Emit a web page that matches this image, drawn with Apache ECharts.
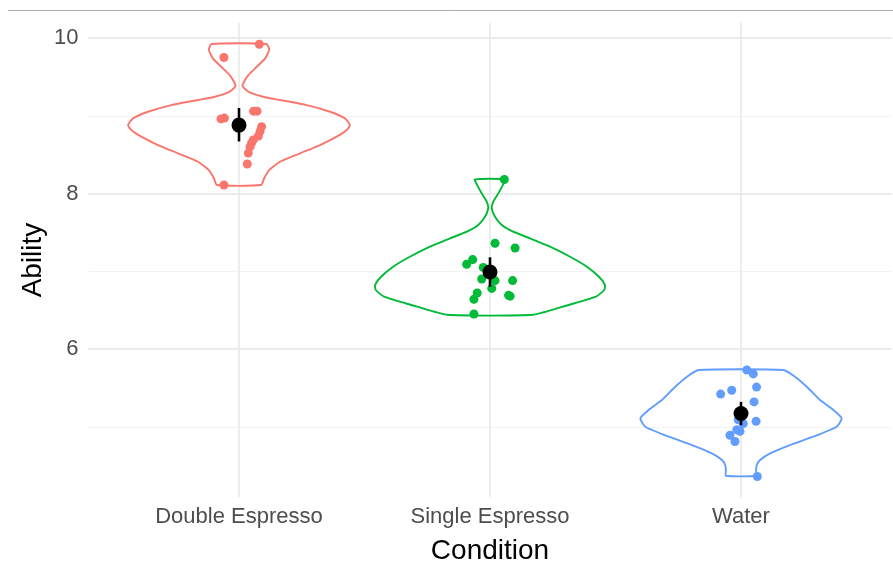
<!DOCTYPE html>
<html>
<head>
<meta charset="utf-8">
<script src="https://cdn.jsdelivr.net/npm/echarts@6/dist/echarts.min.js"></script>
<style>
  html, body { margin: 0; padding: 0; background: #ffffff; }
  #chart { width: 893px; height: 562px; }
</style>
</head>
<body>
<div id="chart"></div>
<script>
// ---- data ----
const categories = ['Double Espresso', 'Single Espresso', 'Water'];
const groupColors = ['#F8766D', '#00BA38', '#619CFF'];
const yMajorTicks = [6, 8, 10];
const yMinorTicks = [5, 7, 9];

// individual observations: [horizontal jitter (category units), Ability]
const doubleEspresso = [
  [0.081, 9.92], [-0.060, 9.75], [-0.072, 8.96], [-0.058, 8.97], [0.058, 9.06],
  [0.072, 9.06], [0.090, 8.86], [0.084, 8.80], [0.077, 8.74], [0.057, 8.69],
  [0.050, 8.65], [0.044, 8.60], [0.037, 8.52], [0.033, 8.38], [-0.060, 8.11]
];
const singleEspresso = [
  [0.057, 8.18], [0.020, 7.36], [0.100, 7.30], [-0.069, 7.15], [-0.093, 7.09],
  [-0.027, 7.05], [-0.033, 6.90], [0.020, 6.88], [0.090, 6.88], [0.007, 6.78],
  [0.080, 6.68], [0.074, 6.69], [-0.051, 6.72], [-0.064, 6.64], [-0.064, 6.45]
];
const water = [
  [0.023, 5.73], [0.049, 5.68], [0.062, 5.51], [-0.037, 5.47], [-0.081, 5.42],
  [0.052, 5.32], [0.060, 5.07], [0.009, 5.04], [-0.011, 5.09], [-0.017, 4.96],
  [-0.004, 4.94], [-0.044, 4.89], [-0.024, 4.81], [0.065, 4.36], [-0.005, 5.15]
];

// violin outlines: Ability levels (top to bottom) and density half-widths (category units)
const doubleViolinY = [9.923, 9.846, 9.739, 9.631, 9.524, 9.438, 9.383, 9.310, 9.245, 9.203, 9.138,
  9.052, 8.967, 8.881, 8.817, 8.731, 8.624, 8.517, 8.409, 8.302, 8.196, 8.109];
const doubleViolinW = [0.110, 0.120, 0.104, 0.071, 0.037, 0.020, 0.014, 0.037, 0.096, 0.163, 0.270,
  0.363, 0.422, 0.442, 0.429, 0.389, 0.323, 0.243, 0.163, 0.120, 0.100, 0.088];
const singleViolinY = [8.182, 8.109, 8.002, 7.895, 7.809, 7.702, 7.595, 7.509, 7.424, 7.316, 7.187,
  7.059, 6.930, 6.823, 6.759, 6.673, 6.545, 6.440];
const singleViolinW = [0.060, 0.051, 0.033, 0.013, 0.007, 0.020, 0.047, 0.092, 0.159, 0.239, 0.319,
  0.386, 0.434, 0.458, 0.455, 0.422, 0.291, 0.171];
const waterViolinY = [5.730, 5.644, 5.515, 5.344, 5.216, 5.108, 5.001, 4.872, 4.765, 4.658, 4.572,
  4.508, 4.440, 4.370];
const waterViolinW = [0.169, 0.215, 0.262, 0.315, 0.368, 0.401, 0.381, 0.288, 0.195, 0.116, 0.076,
  0.063, 0.060, 0.060];

// group means with interval bounds
const groupMeans = [8.88, 6.99, 5.17];
const intervalLow = [8.67, 6.80, 5.02];
const intervalHigh = [9.10, 7.18, 5.32];

// ---- chart ----
const observations = [doubleEspresso, singleEspresso, water];
const violins = [
  { y: doubleViolinY, w: doubleViolinW },
  { y: singleViolinY, w: singleViolinW },
  { y: waterViolinY, w: waterViolinW }
];
const FONT = '"Liberation Sans", Arial, sans-serif';

const chart = echarts.init(document.getElementById('chart'), null, { renderer: 'canvas' });

const gridLineData = [
  ...yMinorTicks.map(v => ({ yAxis: v, lineStyle: { color: '#F2F2F2', width: 1.2, type: 'solid' } })),
  ...yMajorTicks.map(v => ({ yAxis: v, lineStyle: { color: '#EBEBEB', width: 1.8, type: 'solid' } })),
  ...categories.map((c, i) => ({ xAxis: i + 1, lineStyle: { color: '#EBEBEB', width: 1.8, type: 'solid' } }))
];

const series = [];

// panel grid lines (kept underneath every mark)
series.push({
  type: 'scatter',
  data: [],
  z: 1,
  silent: true,
  markLine: {
    z: 1,
    silent: true,
    symbol: 'none',
    animation: false,
    label: { show: false },
    emphasis: { disabled: true },
    data: gridLineData
  }
});

// violin outlines
series.push({
  type: 'custom',
  z: 10,
  silent: true,
  data: categories.map((c, i) => [i + 1]),
  renderItem: function (params, api) {
    const g = params.dataIndex;
    const v = violins[g];
    const cx = g + 1;
    const pts = [];
    for (let k = 0; k < v.y.length; k++) pts.push(api.coord([cx + v.w[k], v.y[k]]));
    for (let k = v.y.length - 1; k >= 0; k--) pts.push(api.coord([cx - v.w[k], v.y[k]]));
    return {
      type: 'polygon',
      shape: { points: pts, smooth: 0.18 },
      style: { fill: 'none', stroke: groupColors[g], lineWidth: 1.9 }
    };
  }
});

// jittered observations
observations.forEach((obs, g) => {
  series.push({
    type: 'scatter',
    z: 11,
    symbol: 'circle',
    symbolSize: 9,
    itemStyle: { color: groupColors[g], opacity: 1 },
    emphasis: { disabled: true },
    data: obs.map(p => [g + 1 + p[0], p[1]])
  });
});

// interval bars
series.push({
  type: 'custom',
  z: 12,
  silent: true,
  data: groupMeans.map((m, i) => [i + 1, intervalLow[i], intervalHigh[i]]),
  renderItem: function (params, api) {
    const a = api.coord([api.value(0), api.value(1)]);
    const b = api.coord([api.value(0), api.value(2)]);
    return {
      type: 'line',
      shape: { x1: a[0], y1: a[1], x2: b[0], y2: b[1] },
      style: { stroke: '#000000', lineWidth: 2.6, opacity: 1 }
    };
  }
});

// group means
series.push({
  type: 'scatter',
  z: 13,
  symbol: 'circle',
  symbolSize: 15,
  itemStyle: { color: '#000000', opacity: 1 },
  emphasis: { disabled: true },
  data: groupMeans.map((m, i) => [i + 1, m])
});

chart.setOption({
  animation: false,
  backgroundColor: '#ffffff',
  textStyle: { fontFamily: FONT },
  grid: {
    left: 88.4, right: 1.4, top: 22.5, bottom: 64.5,
    containLabel: false,
    outerBoundsMode: 'none'
  },
  xAxis: {
    type: 'value',
    min: 0.4,
    max: 3.6,
    name: 'Condition',
    nameLocation: 'middle',
    nameGap: 40,
    nameTextStyle: { fontSize: 28, color: '#000000', fontFamily: FONT },
    axisLine: { show: false },
    axisTick: { show: false },
    splitLine: { show: false },
    axisLabel: {
      customValues: [1, 2, 3],
      formatter: v => categories[Math.round(v) - 1] || '',
      fontSize: 22,
      color: '#4D4D4D',
      margin: 8,
      fontFamily: FONT
    }
  },
  yAxis: {
    type: 'value',
    min: 4.09,
    max: 10.2,
    name: 'Ability',
    nameLocation: 'middle',
    nameGap: 41,
    nameMoveOverlap: false,
    nameRotate: 90,
    nameTextStyle: { fontSize: 28, color: '#000000', fontFamily: FONT },
    axisLine: { show: false },
    axisTick: { show: false },
    splitLine: { show: false },
    axisLabel: {
      customValues: yMajorTicks,
      formatter: v => String(v),
      fontSize: 22,
      color: '#4D4D4D',
      margin: 10,
      fontFamily: FONT
    }
  },
  graphic: [{
    type: 'line',
    silent: true,
    shape: { x1: 8, y1: 10.5, x2: 893, y2: 10.5 },
    style: { stroke: '#ABABAB', lineWidth: 1 }
  }],
  series: series
});
</script>
</body>
</html>
